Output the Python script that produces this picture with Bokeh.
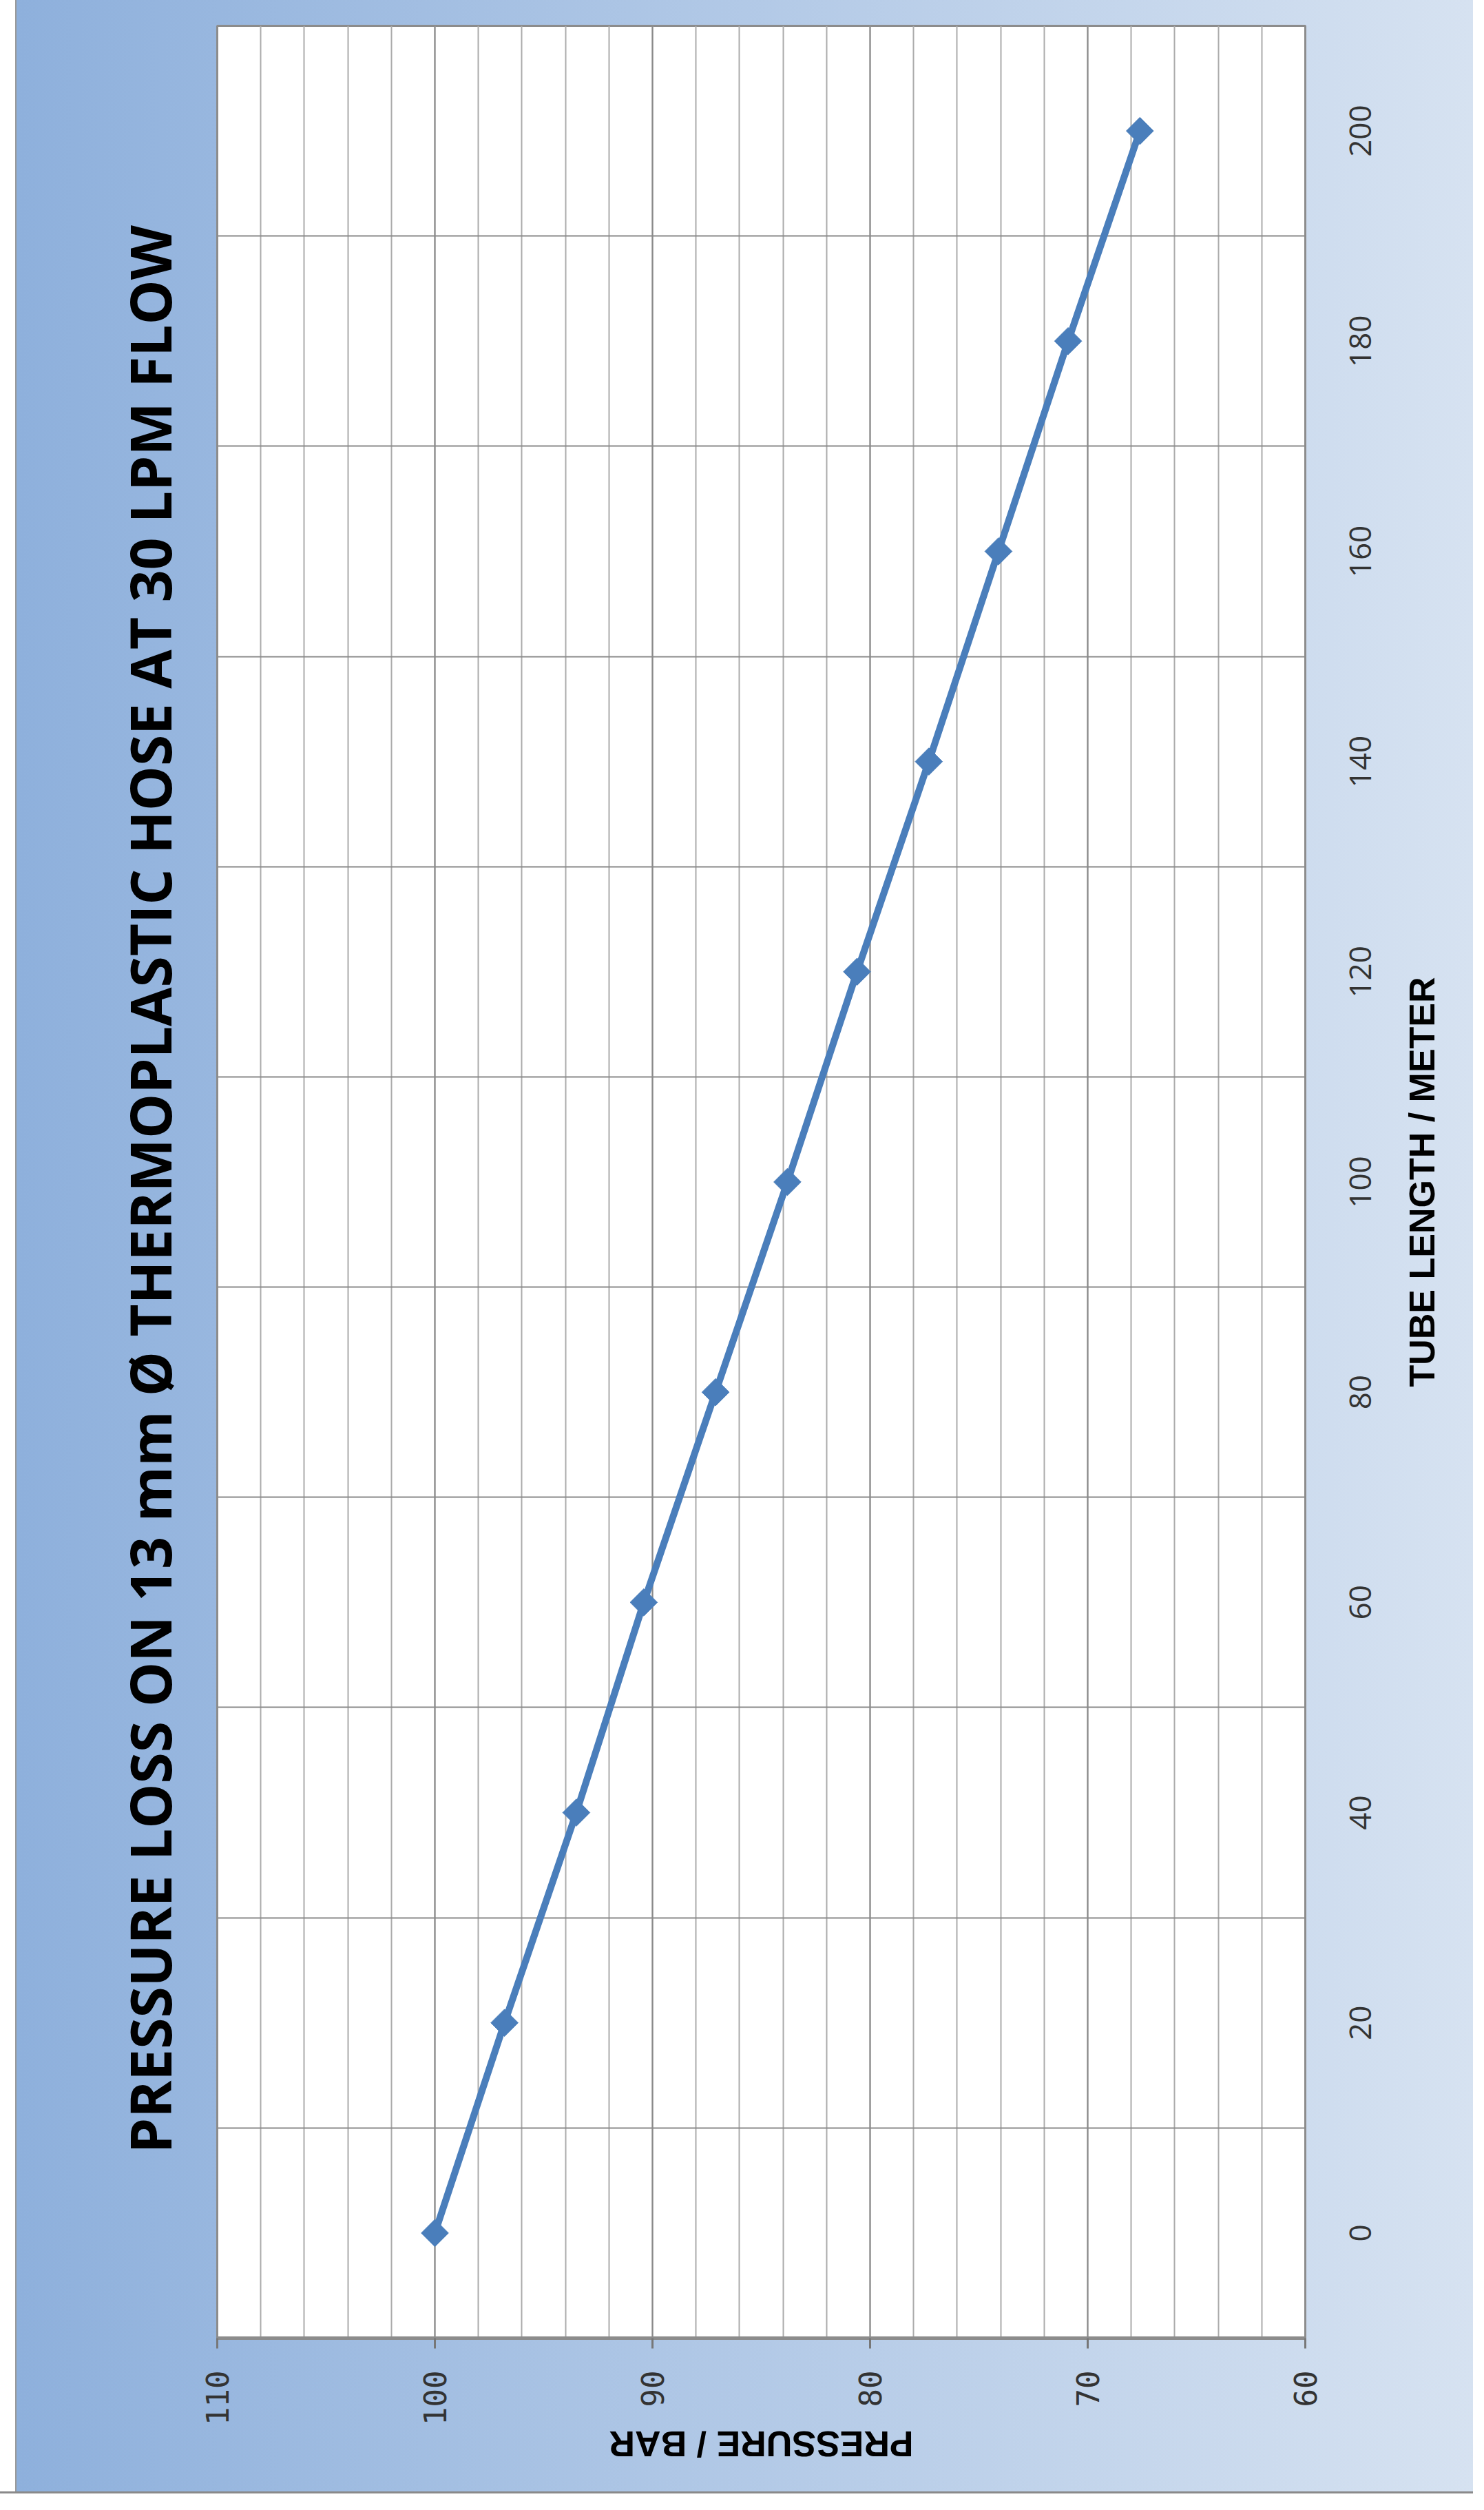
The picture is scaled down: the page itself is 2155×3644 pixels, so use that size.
import math
from bokeh.plotting import figure
from bokeh.models import FixedTicker, SingleIntervalTicker, Range1d, LinearAxis
from bokeh.embed import file_html
from bokeh.resources import INLINE

# ---- data ----
title_text = "PRESSURE LOSS ON 13 mm \u00d8 THERMOPLASTIC HOSE AT 30  LPM FLOW"
x_title = "TUBE LENGTH / METER"
y_title = "PRESSURE / BAR"
tube_length = [0, 20, 40, 60, 80, 100, 120, 140, 160, 180, 200]
pressure = [100, 96.8, 93.5, 90.4, 87.1, 83.8, 80.6, 77.3, 74.1, 70.9, 67.6]
pressure_ticks = [110, 100, 90, 80, 70, 60]
length_ticks = [0, 20, 40, 60, 80, 100, 120, 140, 160, 180, 200]
length_grid = [10, 30, 50, 70, 90, 110, 130, 150, 170, 190]

FONT = "Open Sans"
AXIS_TITLE_FONT = "Liberation Sans"
W, H = 2139, 3620
ML, MT, MR, MB = 315, 37, 244, 226
FW, FH = W - ML - MR, H - MT - MB
X0, X1, Y0, Y1 = 110, 60, -10, 210
PX_X = FW / abs(X1 - X0)      # px per bar
PX_Y = FH / (Y1 - Y0)         # px per metre

p = figure(width=W, height=H,
           x_range=Range1d(X0, X1), y_range=Range1d(Y0, Y1),
           output_backend="svg", toolbar_location=None,
           x_axis_location="below", y_axis_location="right",
           min_border_left=ML, min_border_top=MT,
           min_border_right=MR, min_border_bottom=MB,
           background_fill_color="white", border_fill_color=None,
           outline_line_color="#8c8c8c", outline_line_width=3)

p.styles = {"background": "linear-gradient(to top, #8a8a8a 0px, #8a8a8a 3px, rgba(0,0,0,0) 3px), "
                          "linear-gradient(to right, #ffffff 0px, #ffffff 22px, #9a9a9a 22px, #9a9a9a 24px, "
                          "#8eb0dc 24px, #d6e2f1 100%)"}

# title on the left, reading bottom to top
p.title.text = title_text
p.title_location = "left"
p.title.align = "center"
p.title.text_font = FONT
p.title.text_font_style = "bold"
p.title.text_font_size = "82px"
p.title.text_color = "black"
p.title.standoff = 85

# grid
p.xgrid.ticker = SingleIntervalTicker(interval=10, num_minor_ticks=5)
p.xgrid.grid_line_color = "#8a8a8a"
p.xgrid.grid_line_width = 2
p.xgrid.minor_grid_line_color = "#ababab"
p.xgrid.minor_grid_line_width = 2
p.ygrid.ticker = FixedTicker(ticks=length_grid)
p.ygrid.grid_line_color = "#8a8a8a"
p.ygrid.grid_line_width = 2

# ---------- bottom side: [axis line + ticks] [title] [tick labels] ----------
xa = p.xaxis[0]
xa.ticker = FixedTicker(ticks=pressure_ticks)
xa.major_label_text_font_size = "1px"
xa.major_label_text_alpha = 0
xa.major_label_standoff = 0
xa.axis_line_color = "#8c8c8c"
xa.axis_line_width = 5
xa.major_tick_line_color = "#777777"
xa.major_tick_line_width = 3
xa.major_tick_out = 15
xa.major_tick_in = 0
xa.minor_tick_line_color = None

BOTTOM_TITLE_W = 442
bx = round((X0 + X1) / 2 + BOTTOM_TITLE_W / 2 / PX_X, 4)
bax = LinearAxis(ticker=FixedTicker(ticks=[bx]), major_label_overrides={bx: y_title},
                 major_label_orientation=math.pi, major_label_standoff=138,
                 major_label_text_font=AXIS_TITLE_FONT, major_label_text_font_style="bold",
                 major_label_text_font_size="52px", major_label_text_color="black",
                 axis_line_color=None, major_tick_line_color=None, minor_tick_line_color=None,
                 major_tick_out=0, major_tick_in=0)

xl = LinearAxis(ticker=FixedTicker(ticks=pressure_ticks),
                major_label_orientation=math.pi / 2, major_label_standoff=-167,
                major_label_text_font="DejaVu Sans Mono", major_label_text_font_size="44px",
                major_label_text_color="#333333",
                axis_line_color=None, major_tick_line_color=None, minor_tick_line_color=None,
                major_tick_out=0, major_tick_in=0)
p.below = [xa, bax, xl]

# ---------- right side: [title] [tick labels] ----------
# rotated labels are anchored at their start, so the anchor is moved back by half
# the label length to centre them on the tick
DIGIT_W = 0.5718 * 44
anchors = [round(t - len(str(t)) * DIGIT_W / 2 / PX_Y, 4) for t in length_ticks]
ya = p.yaxis[0]
ya.ticker = FixedTicker(ticks=anchors)
ya.major_label_overrides = {a: str(t) for a, t in zip(anchors, length_ticks)}
ya.major_label_orientation = math.pi / 2
ya.major_label_text_font = FONT
ya.major_label_text_font_size = "44px"
ya.major_label_text_color = "#333333"
ya.major_label_standoff = -151
ya.axis_line_color = None
ya.major_tick_line_color = None
ya.minor_tick_line_color = None
ya.major_tick_out = 0
ya.major_tick_in = 0

RIGHT_TITLE_W = 595
ry = round((Y0 + Y1) / 2 - RIGHT_TITLE_W / 2 / PX_Y, 4)
rax = LinearAxis(ticker=FixedTicker(ticks=[ry]), major_label_overrides={ry: x_title},
                 major_label_orientation=math.pi / 2, major_label_standoff=170,
                 major_label_text_font=AXIS_TITLE_FONT, major_label_text_font_style="bold",
                 major_label_text_font_size="52px", major_label_text_color="black",
                 axis_line_color=None, major_tick_line_color=None, minor_tick_line_color=None,
                 major_tick_out=0, major_tick_in=0)
p.right = [rax, ya]

# data
p.line(pressure, tube_length, line_color="#4a7ebb", line_width=10)
p.scatter(pressure, tube_length, marker="square", angle=math.pi / 4, size=28,
          fill_color="#4a7ebb", line_color="#4a7ebb")

open("out.html", "w").write(file_html(p, INLINE))
